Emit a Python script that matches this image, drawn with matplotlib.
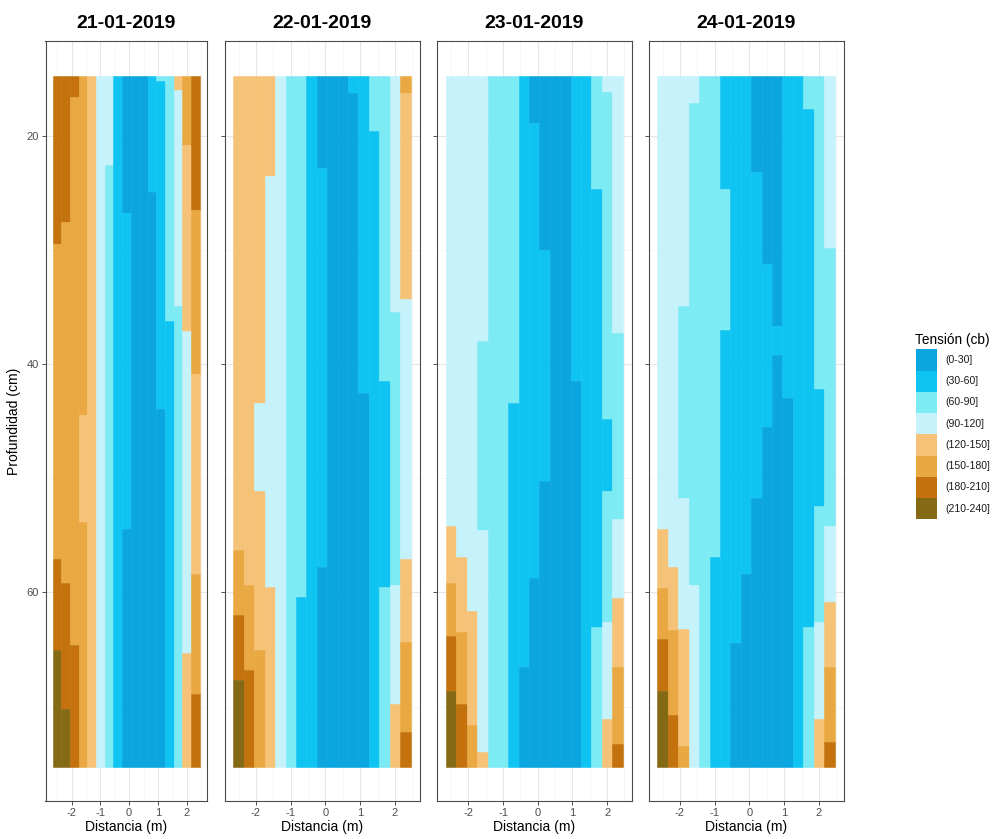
import matplotlib
matplotlib.use('Agg')
import matplotlib.pyplot as plt
from matplotlib.patches import Rectangle

plt.rcParams['font.family'] = ['Liberation Sans', 'DejaVu Sans']

# ---------------- data ----------------
dates = ['21-01-2019', '22-01-2019', '23-01-2019', '24-01-2019']
tension_labels = ['(0-30]', '(30-60]', '(60-90]', '(90-120]',
                  '(120-150]', '(150-180]', '(180-210]', '(210-240]']
tension_colors = ['#0BA5DF', '#10C4F2', '#7DEBF3', '#C6F2FC',
                  '#F5C277', '#EAA842', '#C3720E', '#856A15']

# distance of each sensor column (m)
distance = [-2.5, -2.2, -1.9, -1.6, -1.3, -1.0, -0.7, -0.4, -0.1,
            0.2, 0.5, 0.8, 1.1, 1.4, 1.7, 2.0, 2.3]
col_width = 0.3
depth_top = 14.75
depth_bottom = 75.25
END = depth_bottom

# each column: list of (tension class index, depth where the class ends)
day21 = [
    [(6, 29.5), (5, 57.1), (6, 65.0), (7, END)],
    [(6, 27.6), (5, 59.2), (6, 70.2), (7, END)],
    [(6, 16.6), (5, 64.6), (6, END)],
    [(5, 44.5), (4, 53.8), (5, END)],
    [(4, END)],
    [(3, END)],
    [(3, 22.6), (2, END)],
    [(1, END)],
    [(0, 26.8), (1, 54.4), (0, END)],
    [(0, END)],
    [(0, END)],
    [(1, 24.9), (0, END)],
    [(2, 15.25), (1, 43.9), (0, END)],
    [(2, 36.2), (1, END)],
    [(4, 16.0), (3, 34.9), (2, END)],
    [(5, 20.8), (4, 37.1), (3, 65.3), (4, END)],
    [(6, 26.5), (5, 40.9), (4, 58.4), (5, 68.9), (6, END)],
]
day22 = [
    [(4, 56.3), (5, 62.0), (6, 67.7), (7, END)],
    [(4, 59.3), (5, 66.8), (6, END)],
    [(4, 43.4), (3, 51.1), (4, 65.0), (5, END)],
    [(4, 23.5), (3, 59.5), (4, END)],
    [(3, END)],
    [(2, END)],
    [(2, 60.4), (1, END)],
    [(1, END)],
    [(0, 22.8), (1, 57.8), (0, END)],
    [(0, END)],
    [(0, END)],
    [(1, 16.3), (0, END)],
    [(1, 42.5), (0, END)],
    [(2, 19.6), (1, END)],
    [(2, 41.5), (1, 59.5), (2, END)],
    [(3, 35.4), (2, 59.3), (3, 69.8), (4, END)],
    [(5, 16.3), (4, 34.3), (3, 57.1), (4, 64.3), (5, 72.2), (6, END)],
]
day23 = [
    [(3, 54.2), (4, 59.2), (5, 63.8), (6, 68.6), (7, END)],
    [(3, 56.9), (4, 63.5), (5, 69.8), (6, END)],
    [(3, 61.6), (4, 71.6), (5, END)],
    [(3, 38.0), (2, 54.5), (3, 74.0), (4, END)],
    [(2, END)],
    [(2, END)],
    [(2, 43.4), (1, END)],
    [(1, 66.5), (0, END)],
    [(0, 18.9), (1, 58.7), (0, END)],
    [(0, 30.0), (1, 50.2), (0, END)],
    [(0, END)],
    [(0, END)],
    [(1, 41.5), (0, END)],
    [(1, END)],
    [(2, 24.7), (1, 63.0), (2, END)],
    [(3, 16.2), (2, 44.8), (1, 51.1), (2, 62.6), (3, 71.1), (4, END)],
    [(3, 37.3), (2, 53.6), (3, 60.5), (4, 66.5), (5, 73.3), (6, END)],
]
day24 = [
    [(3, 54.4), (4, 59.6), (5, 64.1), (6, 68.6), (7, END)],
    [(3, 57.8), (4, 63.3), (5, 70.7), (6, END)],
    [(3, 34.9), (2, 51.7), (3, 63.2), (4, 73.4), (5, END)],
    [(3, 17.1), (2, 59.3), (3, END)],
    [(2, END)],
    [(2, 56.9), (1, END)],
    [(1, 24.7), (2, 37.0), (1, END)],
    [(1, 64.4), (0, END)],
    [(1, 58.4), (0, END)],
    [(0, 23.2), (1, 51.7), (0, END)],
    [(0, 31.2), (1, 45.5), (0, END)],
    [(0, 36.7), (1, 39.2), (0, END)],
    [(1, 43.0), (0, END)],
    [(1, END)],
    [(2, 17.7), (1, 63.0), (2, END)],
    [(2, 42.2), (1, 52.4), (2, 62.6), (3, 71.1), (4, END)],
    [(3, 29.8), (2, 54.2), (3, 60.8), (4, 66.5), (5, 73.1), (6, END)],
]
days = [day21, day22, day23, day24]

x_ticks = [-2, -1, 0, 1, 2]
x_ticklabels = ['-2', '-1', '0', '1', '2']
y_ticks = [20, 40, 60]

# ---------------- layout ----------------
W, H = 997, 839
fig = plt.figure(figsize=(W / 100, H / 100), dpi=100)
panels_px = [(45.5, 207.0), (224.5, 419.5), (437.1, 631.5), (648.5, 843.5)]
ytop_px, ybot_px = 41.2, 801.2

span_x = (distance[-1] + col_width / 2) - (distance[0] - col_width / 2)
xlim = (distance[0] - col_width / 2 - 0.05 * span_x,
        distance[-1] + col_width / 2 + 0.05 * span_x)
span_y = depth_bottom - depth_top
ylim = (depth_bottom + 0.05 * span_y, depth_top - 0.05 * span_y)

frame_col = '#4a4a4a'
tick_col = '#4D4D4D'

for i, (day, date) in enumerate(zip(days, dates)):
    x0, x1 = panels_px[i]
    ax = fig.add_axes([x0 / W, 1 - ybot_px / H, (x1 - x0) / W,
                       (ybot_px - ytop_px) / H])
    ax.set_xlim(*xlim)
    ax.set_ylim(*ylim)
    # grid
    for gx in [-2.5, -1.5, -0.5, 0.5, 1.5, 2.5]:
        ax.axvline(gx, color='#F2F2F2', lw=0.5, zorder=0)
    for gy in [30, 50, 70]:
        ax.axhline(gy, color='#F2F2F2', lw=0.5, zorder=0)
    for gx in x_ticks:
        ax.axvline(gx, color='#E6E6E6', lw=0.8, zorder=0)
    for gy in y_ticks:
        ax.axhline(gy, color='#E6E6E6', lw=0.8, zorder=0)
    # tiles
    for xc, col in zip(distance, day):
        start = depth_top
        for cls, stop in col:
            c = tension_colors[cls]
            ax.bar(xc, stop - start, bottom=start, width=col_width,
                   color=c, edgecolor=c, linewidth=0.4, zorder=2)
            start = stop
    ax.set_xticks(x_ticks)
    ax.set_xticklabels(x_ticklabels)
    ax.set_yticks(y_ticks)
    if i == 0:
        ax.set_yticklabels([str(v) for v in y_ticks])
        ax.set_ylabel('Profundidad (cm)', fontsize=10, labelpad=4)
    else:
        ax.set_yticklabels([])
    ax.tick_params(axis='both', length=3, width=0.6, color='#333333',
                   labelcolor=tick_col, labelsize=8, pad=2)
    ax.set_xlabel('Distancia (m)', fontsize=10, labelpad=1)
    for s in ax.spines.values():
        s.set_color(frame_col)
        s.set_linewidth(0.8)
    fig.text((x0 + x1) / 2 / W, 1 - 24 / H, date, ha='center', va='center',
             fontsize=14, fontweight='bold')

# ---------------- legend ----------------
lax = fig.add_axes([0, 0, 1, 1])
lax.set_xlim(0, W)
lax.set_ylim(H, 0)
lax.axis('off')
lax.text(915, 340, 'Tensión (cb)', fontsize=9.8, ha='left', va='center')
key_h = 21.25
for k, (lab, c) in enumerate(zip(tension_labels, tension_colors)):
    ytop = 349.3 + k * key_h
    lax.add_patch(Rectangle((916, ytop), 20.7, key_h, facecolor=c,
                            edgecolor='none'))
    lax.text(945, ytop + key_h / 2, lab, fontsize=7.6, ha='left',
             va='center', color='#1a1a1a')

fig.savefig('out.png', dpi=100)
